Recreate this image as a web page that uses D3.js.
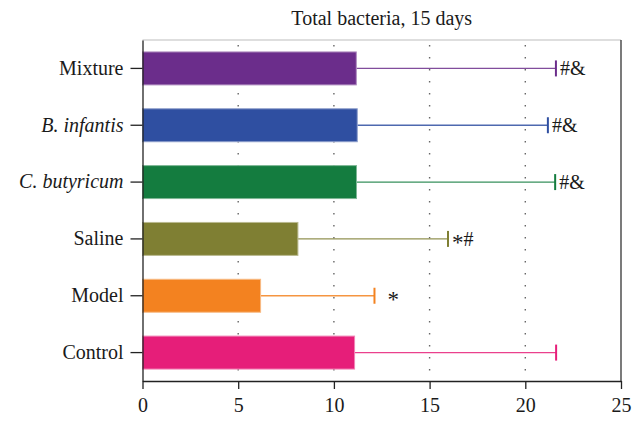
<!DOCTYPE html>
<html>
<head>
<meta charset="utf-8">
<script src="https://cdn.jsdelivr.net/npm/d3@7"></script>
<style>
  html, body { margin: 0; padding: 0; background: #fff; }
  svg text { font-family: "Liberation Serif", "DejaVu Serif", serif; fill: #1a1a1a; }
</style>
</head>
<body>
<svg id="chart" width="642" height="423"></svg>
<script>
// Groups, top to bottom
const groups = ["Mixture", "B. infantis", "C. butyricum", "Saline", "Model", "Control"];
const italicGroups = ["B. infantis", "C. butyricum"];
// Mean total bacteria and upper error-bar end for each group
const means = [11.17, 11.22, 11.18, 8.12, 6.17, 11.08];
const upper = [21.6, 21.18, 21.56, 15.96, 12.12, 21.61];
// Significance marks next to each error bar
const marks = ["#&", "#&", "#&", "*#", "*", ""];
const barColors = ["#6b2d8b", "#2f4fa1", "#147c3f", "#7f7f33", "#f38220", "#e61e79"];
const xTicks = [0, 5, 10, 15, 20, 25];
const title = "Total bacteria, 15 days";

const FS = 20;
const svg = d3.select("#chart");
const margin = { left: 142.5, right: 21, top: 40, bottom: 42 };
const W = 642, H = 423;

const x = d3.scaleLinear().domain([0, 25]).range([margin.left, W - margin.right]);
const y = d3.scaleBand().domain(groups).range([margin.top, H - margin.bottom]).paddingInner(0.42).paddingOuter(0.21);

// frame: light top edge, dark right edge
svg.append("line").attr("x1", x(0)).attr("x2", x(25)).attr("y1", margin.top).attr("y2", margin.top)
  .attr("stroke", "#bdbdbd").attr("stroke-width", 1);
svg.append("line").attr("x1", x(25)).attr("x2", x(25)).attr("y1", margin.top).attr("y2", H - margin.bottom)
  .attr("stroke", "#333").attr("stroke-width", 1.3);

// dotted vertical grid
svg.append("g").selectAll("line").data([5, 10, 15, 20]).join("line")
  .attr("x1", d => x(d)).attr("x2", d => x(d))
  .attr("y1", margin.top).attr("y2", H - margin.bottom)
  .attr("stroke", "#666").attr("stroke-width", 1.4)
  .attr("stroke-dasharray", "1.4 10.6").attr("stroke-dashoffset", -5);

const rows = groups.map((g, i) => ({ g, mean: means[i], up: upper[i], mark: marks[i], color: barColors[i] }));

// error bars (upper side only)
const eb = svg.append("g").selectAll("g").data(rows).join("g");
eb.append("line")
  .attr("x1", d => x(d.mean)).attr("x2", d => x(d.up))
  .attr("y1", d => y(d.g) + y.bandwidth() / 2).attr("y2", d => y(d.g) + y.bandwidth() / 2)
  .attr("stroke", d => d3.interpolateRgb(d.color, "#fff")(0.15)).attr("stroke-width", 1.4);
eb.append("line")
  .attr("x1", d => x(d.up)).attr("x2", d => x(d.up))
  .attr("y1", d => y(d.g) + y.bandwidth() / 2 - 8).attr("y2", d => y(d.g) + y.bandwidth() / 2 + 8)
  .attr("stroke", d => d.color).attr("stroke-width", 2);

// bars
svg.append("g").selectAll("rect").data(rows).join("rect")
  .attr("x", x(0)).attr("y", d => y(d.g))
  .attr("width", d => x(d.mean) - x(0)).attr("height", y.bandwidth())
  .attr("fill", d => d.color)
  .attr("stroke", d => d3.interpolateRgb(d.color, "#fff")(0.45)).attr("stroke-width", 1);

// significance marks; asterisks are lowered to sit on the bar's centre line
const markText = svg.append("g").selectAll("text").data(rows).join("text")
  .attr("x", d => x(d.up) + (d.mark === "*" ? 13 : 4))
  .attr("y", d => y(d.g) + y.bandwidth() / 2 + 7)
  .attr("font-size", FS);
markText.selectAll("tspan").data(d => Array.from(d.mark)).join("tspan")
  .attr("dy", (c, i, nodes) => {
    const prev = i > 0 ? nodes[i - 1].__data__ : null;
    if (c === "*") return 4;
    if (prev === "*") return -4;
    return 0;
  })
  .attr("font-size", c => c === "*" ? 23 : FS)
  .text(c => c);

// axes
const xAxis = d3.axisBottom(x).tickValues(xTicks).tickSize(8).tickSizeOuter(0).tickFormat(d3.format("d"));
const gx = svg.append("g").attr("transform", `translate(0,${H - margin.bottom})`).call(xAxis);
gx.attr("font-size", FS).attr("font-family", '"Liberation Serif", serif');
gx.select(".domain").attr("stroke", "#222").attr("stroke-width", 1.3);
gx.selectAll(".tick line").attr("stroke", "#222").attr("stroke-width", 1.3);
gx.selectAll(".tick text").attr("font-size", FS).attr("dy", "0.98em").attr("fill", "#1a1a1a");

const yAxis = d3.axisLeft(y).tickSize(12).tickSizeOuter(0).tickPadding(7);
const gy = svg.append("g").attr("transform", `translate(${margin.left},0)`).call(yAxis);
gy.attr("font-size", FS).attr("font-family", '"Liberation Serif", serif');
gy.select(".domain").attr("stroke", "#222").attr("stroke-width", 1.3);
gy.selectAll(".tick line").attr("stroke", "#222").attr("stroke-width", 1.3);
gy.selectAll(".tick text").attr("font-size", FS).attr("fill", "#1a1a1a")
  .style("font-style", d => italicGroups.includes(d) ? "italic" : "normal");

// title
svg.append("text").attr("x", (x(0) + x(25)) / 2).attr("y", 25)
  .attr("text-anchor", "middle").attr("font-size", FS).text(title);
</script>
</body>
</html>
